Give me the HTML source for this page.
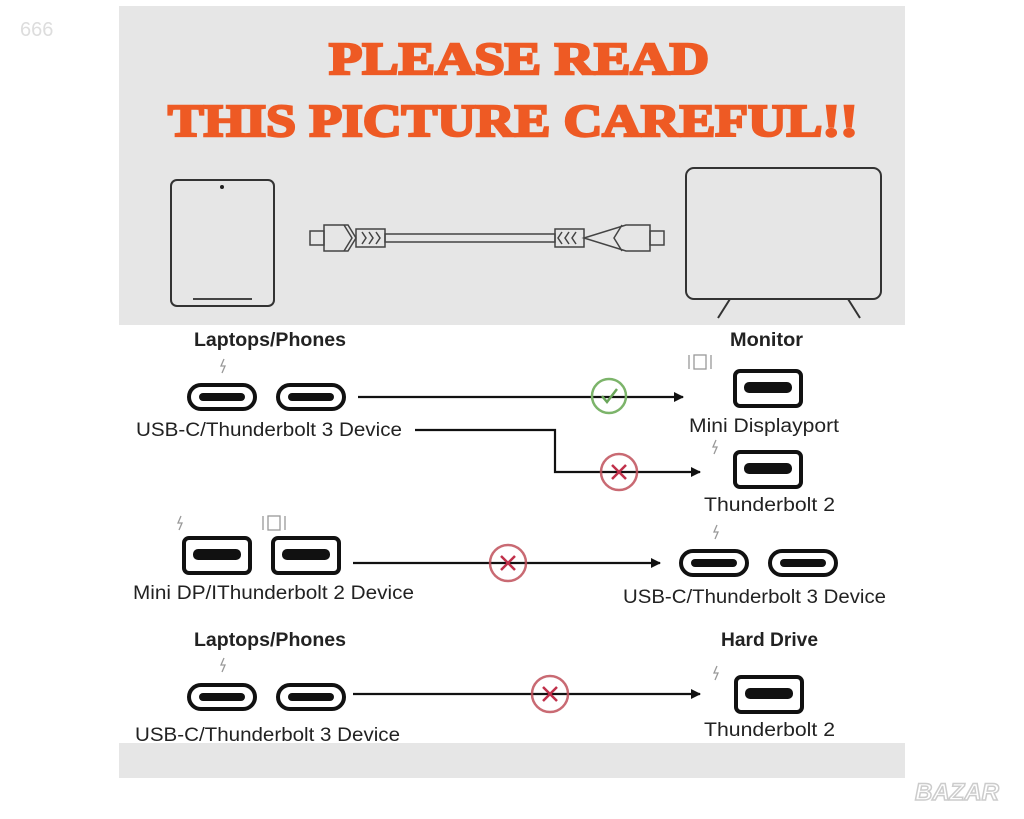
<!DOCTYPE html>
<html><head><style>
body{margin:0;background:#fff;width:1024px;height:819px;overflow:hidden}
svg{display:block}
.t{font-family:"Liberation Sans",sans-serif;font-size:19px;fill:#222}
.b{font-weight:bold}
</style></head><body>
<svg width="1024" height="819" viewBox="0 0 1024 819" xmlns="http://www.w3.org/2000/svg">
<defs>
<g id="usbc"><rect x="0" y="0" width="66" height="24" rx="12" fill="#fff" stroke="#111" stroke-width="4"/><rect x="10" y="8" width="46" height="8" rx="4" fill="#111"/></g>
<g id="mdp"><rect x="0" y="0" width="66" height="35" rx="5" fill="#fff" stroke="#111" stroke-width="4"/><rect x="9" y="11" width="48" height="11" rx="5" fill="#111"/></g>
<marker id="ah" markerWidth="10" markerHeight="10" refX="9" refY="5" orient="auto" markerUnits="userSpaceOnUse"><path d="M0,0 L10,5 L0,10 z" fill="#111"/></marker>
<g id="xm"><circle r="18" fill="none" stroke="#c0505a" stroke-width="2.5" opacity="0.85"/><path d="M-7,-7 L7,7 M7,-7 L-7,7" stroke="#c0304a" stroke-width="2.5"/></g>
<g id="bolt"><path d="M1,-7 L-2,0 L2,0 L-1,7" stroke="#999" stroke-width="1.3" fill="none"/></g>
<g id="dp"><rect x="-6" y="-7" width="12" height="14" fill="none" stroke="#999" stroke-width="1.3"/><path d="M-11,-7 V7 M11,-7 V7" stroke="#999" stroke-width="1.3"/></g>
</defs>
<text x="20" y="36" font-family="Liberation Sans,sans-serif" font-size="20" fill="#ddd">666</text>
<rect x="119" y="6" width="786" height="319" fill="#e6e6e6"/>
<rect x="119" y="743" width="786" height="35" fill="#e6e6e6"/>
<g font-family="Liberation Serif,serif" font-weight="bold" font-size="46" fill="#ee5a24" text-anchor="middle" stroke="#ee5a24" stroke-width="2.5">
<text x="519" y="74" textLength="380" lengthAdjust="spacingAndGlyphs">PLEASE READ</text>
<text x="513" y="136" textLength="690" lengthAdjust="spacingAndGlyphs">THIS PICTURE CAREFUL!!</text>
</g>
<rect x="171" y="180" width="103" height="126" rx="6" fill="none" stroke="#333" stroke-width="2"/>
<circle cx="222" cy="187" r="2" fill="#222"/>
<path d="M193,299 H252" stroke="#444" stroke-width="2"/>
<g fill="none" stroke="#444" stroke-width="1.5">
<rect x="310" y="231" width="14" height="14"/>
<path d="M324,225 H348 L356,238 L348,251 H324 Z"/><path d="M344,225 L352,238 L344,251"/>
<rect x="356" y="229" width="29" height="18"/>
<rect x="385" y="234" width="170" height="8"/>
<rect x="555" y="229" width="29" height="18"/>
<path d="M650,225 H626 L584,238 L626,251 H650 Z"/><path d="M622,225 L614,238 L622,251"/>
<rect x="650" y="231" width="14" height="14"/>
<path d="M362,232 l4,6 l-4,6 M369,232 l4,6 l-4,6 M376,232 l4,6 l-4,6 M562,232 l-4,6 l4,6 M569,232 l-4,6 l4,6 M576,232 l-4,6 l4,6"/>
</g>
<rect x="686" y="168" width="195" height="131" rx="8" fill="none" stroke="#333" stroke-width="2"/>
<path d="M730,299 L718,318 M848,299 L860,318" stroke="#333" stroke-width="2"/>
<text class="t b" x="194" y="346" textLength="152" lengthAdjust="spacingAndGlyphs">Laptops/Phones</text>
<text class="t b" x="730" y="346" textLength="73" lengthAdjust="spacingAndGlyphs">Monitor</text>
<use href="#bolt" x="223" y="366"/>
<use href="#usbc" x="189" y="385"/><use href="#usbc" x="278" y="385"/>
<text class="t" x="136" y="436" textLength="266" lengthAdjust="spacingAndGlyphs">USB-C/Thunderbolt 3 Device</text>
<use href="#dp" x="700" y="362"/>
<use href="#mdp" x="735" y="371"/>
<text class="t" x="689" y="432" textLength="150" lengthAdjust="spacingAndGlyphs">Mini Displayport</text>
<path d="M358,397 H683" stroke="#111" stroke-width="2.2" marker-end="url(#ah)"/>
<g transform="translate(609,396)"><circle r="17" fill="none" stroke="#7cb46a" stroke-width="2.5"/><path d="M-7,0 L-2,6 L8,-7" stroke="#6aa65a" stroke-width="2.5" fill="none"/></g>
<path d="M415,430 H555 V472 H700" stroke="#111" stroke-width="2.2" fill="none" marker-end="url(#ah)"/>
<use href="#xm" x="619" y="472"/>
<use href="#bolt" x="715" y="447"/>
<use href="#mdp" x="735" y="452"/>
<text class="t" x="704" y="511" textLength="131" lengthAdjust="spacingAndGlyphs">Thunderbolt 2</text>
<use href="#bolt" x="180" y="523"/>
<use href="#dp" x="274" y="523"/>
<use href="#mdp" x="184" y="538"/><use href="#mdp" x="273" y="538"/>
<text class="t" x="133" y="599" textLength="281" lengthAdjust="spacingAndGlyphs">Mini DP/IThunderbolt 2 Device</text>
<path d="M353,563 H660" stroke="#111" stroke-width="2.2" marker-end="url(#ah)"/>
<use href="#xm" x="508" y="563"/>
<use href="#bolt" x="716" y="532"/>
<use href="#usbc" x="681" y="551"/><use href="#usbc" x="770" y="551"/>
<text class="t" x="623" y="603" textLength="263" lengthAdjust="spacingAndGlyphs">USB-C/Thunderbolt 3 Device</text>
<text class="t b" x="194" y="646" textLength="152" lengthAdjust="spacingAndGlyphs">Laptops/Phones</text>
<text class="t b" x="721" y="646" textLength="97" lengthAdjust="spacingAndGlyphs">Hard Drive</text>
<use href="#bolt" x="223" y="665"/>
<use href="#usbc" x="189" y="685"/><use href="#usbc" x="278" y="685"/>
<text class="t" x="135" y="741" textLength="265" lengthAdjust="spacingAndGlyphs">USB-C/Thunderbolt 3 Device</text>
<path d="M353,694 H700" stroke="#111" stroke-width="2.2" marker-end="url(#ah)"/>
<use href="#xm" x="550" y="694"/>
<use href="#bolt" x="716" y="673"/>
<use href="#mdp" x="736" y="677"/>
<text class="t" x="704" y="736" textLength="131" lengthAdjust="spacingAndGlyphs">Thunderbolt 2</text>
<text x="915" y="800" font-family="Liberation Sans,sans-serif" font-weight="bold" font-style="italic" font-size="24" fill="#fff" stroke="#ccc" stroke-width="1.5">BAZAR</text>
</svg>
</body></html>
